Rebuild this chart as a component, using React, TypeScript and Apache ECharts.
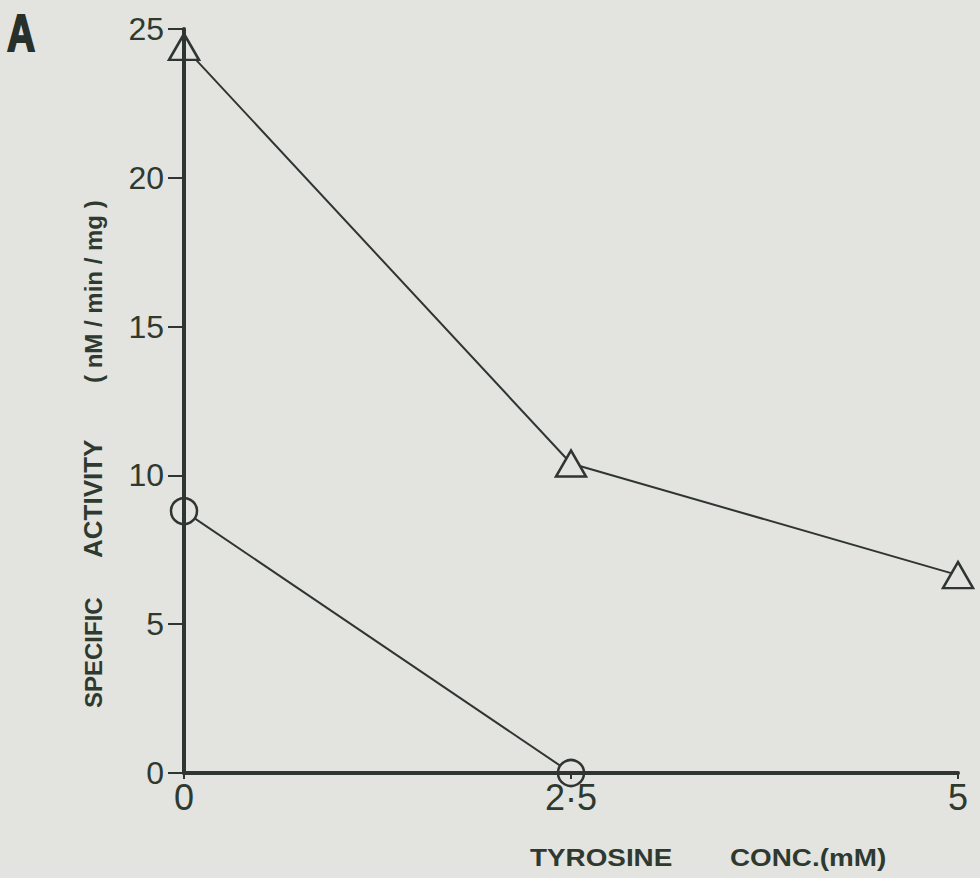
import React, { useEffect, useRef } from "react";
import * as echarts from "echarts";

const xTicks = [0, 2.5, 5];
const xTickLabels = ["0", "2·5", "5"];
const yTicks = [0, 5, 10, 15, 20, 25];

const concentrations = [0, 2.5, 5];
const triangleValues = [24.4, 10.4, 6.65];
const circleConcentrations = [0, 2.5];
const circleValues = [8.8, 0];

const xTitleWords = ["TYROSINE", "CONC.(mM)"];
const yTitleWords = ["SPECIFIC", "ACTIVITY", "( nM / min / mg )"];
const panelLabel = "A";

const BG = "#e3e3df";
const INK = "#2e3a30";
const LINE = "#2f3530";
const FONT = "'Liberation Sans', Arial, sans-serif";

export default function App() {
  const ref = useRef<HTMLDivElement>(null);
  useEffect(() => {
    if (!ref.current) return;
    const chart = echarts.init(ref.current, undefined, { renderer: "svg" });
    const labelMap: Record<string, string> = {};
    xTicks.forEach((t, i) => (labelMap[String(t)] = xTickLabels[i]));
    chart.setOption({
      animation: false,
      backgroundColor: BG,
      grid: { left: 184, right: 22, top: 29, bottom: 105, containLabel: false },
      xAxis: {
        type: "value",
        min: 0,
        max: 5,
        interval: 2.5,
        z: 5,
        axisLine: { show: true, lineStyle: { color: LINE, width: 4 } },
        axisTick: { show: true, length: 6, lineStyle: { color: LINE, width: 2 } },
        axisLabel: {
          margin: 6,
          color: INK,
          fontSize: 36,
          fontFamily: FONT,
          formatter: (v: number) => labelMap[String(v)] ?? "",
        },
        splitLine: { show: false },
      },
      yAxis: {
        type: "value",
        min: yTicks[0],
        max: yTicks[yTicks.length - 1],
        interval: 5,
        z: 5,
        axisLine: { show: true, lineStyle: { color: LINE, width: 4 } },
        axisTick: { show: true, length: 16, lineStyle: { color: LINE, width: 2 } },
        axisLabel: {
          margin: 20,
          color: INK,
          fontSize: 32,
          fontFamily: FONT,
        },
        splitLine: { show: false },
      },
      series: [
        {
          type: "line",
          data: concentrations.map((x, i) => [x, triangleValues[i]]),
          symbol: "triangle",
          symbolSize: [30, 26],
          clip: false,
          z: 2,
          lineStyle: { color: LINE, width: 2 },
          itemStyle: { color: BG, borderColor: LINE, borderWidth: 2.5 },
        },
        {
          type: "line",
          data: circleConcentrations.map((x, i) => [x, circleValues[i]]),
          symbol: "circle",
          symbolSize: 26,
          clip: false,
          z: 2,
          lineStyle: { color: LINE, width: 2 },
          itemStyle: { color: BG, borderColor: LINE, borderWidth: 2.5 },
        },
      ],
      graphic: [
        {
          type: "text",
          x: 7,
          y: 7,
          scaleX: 0.75,
          style: {
            text: panelLabel,
            fill: "#27302a",
            font: "900 52px " + FONT,
            stroke: "#27302a",
            lineWidth: 2,
          },
        },
        {
          type: "text",
          x: 530,
          y: 846,
          scaleX: 1.16,
          style: { text: xTitleWords[0], fill: INK, font: "bold 24px " + FONT },
        },
        {
          type: "text",
          x: 730,
          y: 846,
          scaleX: 1.16,
          style: { text: xTitleWords[1], fill: INK, font: "bold 24px " + FONT },
        },
        {
          type: "text",
          x: 81,
          y: 708,
          rotation: Math.PI / 2,
          style: { text: yTitleWords[0], fill: INK, font: "bold 24px " + FONT },
        },
        {
          type: "text",
          x: 80,
          y: 558,
          rotation: Math.PI / 2,
          style: { text: yTitleWords[1], fill: INK, font: "bold 26px " + FONT },
        },
        {
          type: "text",
          x: 81,
          y: 383,
          rotation: Math.PI / 2,
          style: { text: yTitleWords[2], fill: INK, font: "bold 24px " + FONT },
        },
      ],
    });
    return () => chart.dispose();
  }, []);
  return (
    <div
      ref={ref}
      style={{ position: "fixed", left: 0, top: 0, width: 980, height: 878 }}
    />
  );
}
